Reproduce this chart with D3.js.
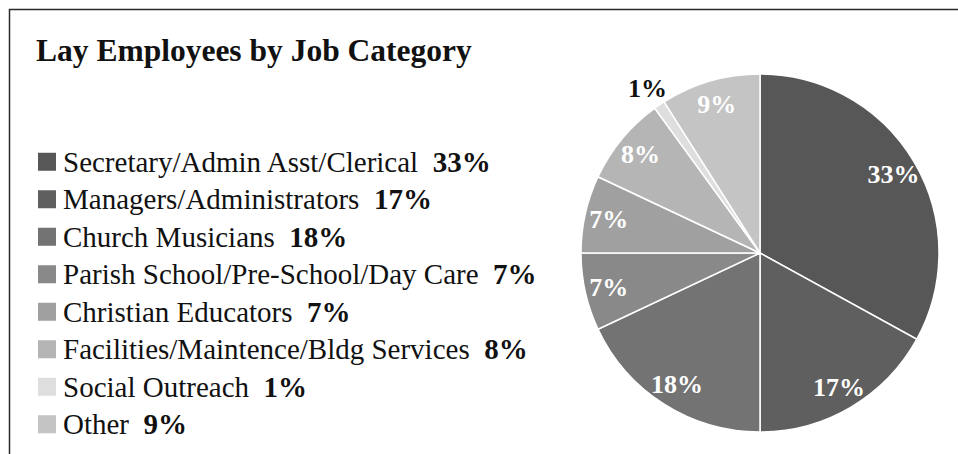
<!DOCTYPE html>
<html>
<head>
<meta charset="utf-8">
<script src="https://cdn.jsdelivr.net/npm/d3@7"></script>
<style>
  body { margin: 0; background: #fff; }
  text { font-family: "Liberation Serif", "Times New Roman", serif; }
</style>
</head>
<body>
<div id="chart"></div>
<script>
// data
var categories = [
  "Secretary/Admin Asst/Clerical",
  "Managers/Administrators",
  "Church Musicians",
  "Parish School/Pre-School/Day Care",
  "Christian Educators",
  "Facilities/Maintence/Bldg Services",
  "Social Outreach",
  "Other"
];
var shares = [33, 17, 18, 7, 7, 8, 1, 9];
var greys = ["#575757", "#5f5f5f", "#737373", "#898989", "#a0a0a0", "#b5b5b5", "#dedede", "#c4c4c4"];
var title = "Lay Employees by Job Category";

var width = 958, height = 454;

var svg = d3.select("#chart").append("svg")
  .attr("width", width)
  .attr("height", height);

// frame (top and left edges only show in the picture)
svg.append("path")
  .attr("d", "M9.5," + height + "V9.5H" + width)
  .style("fill", "none")
  .style("stroke", "#2a2a2a")
  .style("stroke-width", 1.5);

svg.append("text")
  .attr("x", 36)
  .attr("y", 61)
  .style("font-size", "31.5px")
  .style("font-weight", "bold")
  .style("fill", "#111")
  .text(title);

var data = categories.map(function(c, i) {
  return { name: c, value: shares[i], color: greys[i] };
});

// legend
var row = d3.scaleBand()
  .domain(d3.range(data.length))
  .range([143, 443]);

var legend = svg.selectAll("g.leg")
  .data(data)
  .enter()
  .append("g")
  .attr("class", "leg")
  .attr("transform", function(d, i) { return "translate(38," + (row(i) + row.bandwidth() / 2) + ")"; });

legend.append("rect")
  .attr("x", 0)
  .attr("y", -9)
  .attr("width", 18)
  .attr("height", 18)
  .style("fill", function(d) { return d.color; });

var lt = legend.append("text")
  .attr("x", 25)
  .attr("dy", "0.35em")
  .style("font-size", "29px")
  .style("fill", "#111");
lt.append("tspan").text(function(d) { return d.name + "\u00a0\u00a0"; });
lt.append("tspan")
  .style("font-weight", "bold")
  .text(function(d) { return d.value + "%"; });

// pie
var cx = 760, cy = 253, R = 179;
var g = svg.append("g").attr("transform", "translate(" + cx + "," + cy + ")");

var pie = d3.pie().sort(null).value(function(d) { return d.value; });
var arcs = pie(data);

var arc = d3.arc().innerRadius(0).outerRadius(R);
var labelArc = d3.arc().innerRadius(155).outerRadius(155);
var outArc = d3.arc().innerRadius(200).outerRadius(200);

g.selectAll("path.slice")
  .data(arcs)
  .enter()
  .append("path")
  .attr("class", "slice")
  .attr("d", arc)
  .style("fill", function(d) { return d.data.color; })
  .style("stroke", "#fff")
  .style("stroke-width", 1.5);

g.selectAll("text.lab")
  .data(arcs)
  .enter()
  .append("text")
  .attr("class", "lab")
  .attr("transform", function(d) {
    var p = d.data.value < 3 ? outArc.centroid(d) : labelArc.centroid(d);
    return "translate(" + p + ")";
  })
  .attr("text-anchor", "middle")
  .attr("dy", "0.35em")
  .style("font-size", "26px")
  .style("font-weight", "bold")
  .style("fill", function(d) { return d.data.value < 3 ? "#111" : "#fff"; })
  .text(function(d) { return d.data.value + "%"; });
</script>
</body>
</html>
